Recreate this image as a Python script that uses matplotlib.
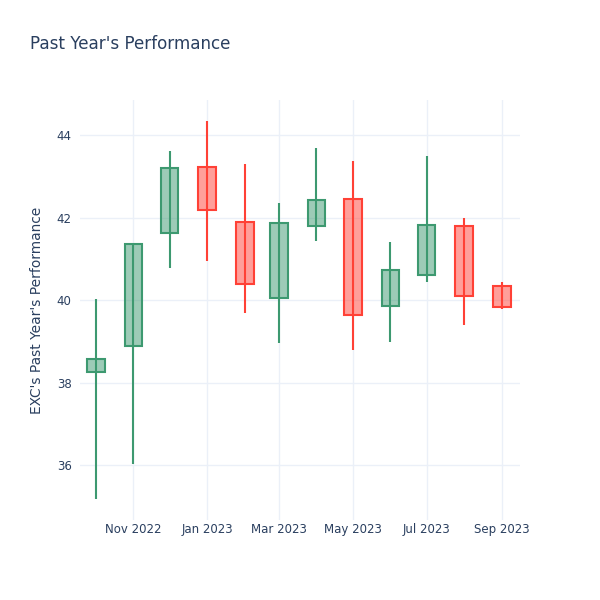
import datetime as dt
import matplotlib
matplotlib.use("Agg")
import matplotlib.pyplot as plt
import matplotlib.dates as mdates

# monthly OHLC for EXC
months = ["2022-10-01", "2022-11-01", "2022-12-01", "2023-01-01", "2023-02-01", "2023-03-01",
          "2023-04-01", "2023-05-01", "2023-06-01", "2023-07-01", "2023-08-01", "2023-09-01"]
opens = [38.25, 38.88, 41.63, 43.23, 41.89, 40.06, 41.79, 42.44, 39.85, 40.61, 41.79, 40.33]
highs = [40.02, 41.37, 43.62, 44.34, 43.31, 42.36, 43.68, 43.37, 41.41, 43.50, 41.99, 40.44]
lows = [35.19, 36.02, 40.78, 40.95, 39.69, 38.97, 41.43, 38.80, 38.99, 40.44, 39.39, 39.78]
closes = [38.58, 41.35, 43.21, 42.19, 40.39, 41.86, 42.42, 39.63, 40.72, 41.83, 40.11, 39.84]

tick_dates = ["2022-11-01", "2023-01-01", "2023-03-01", "2023-05-01", "2023-07-01", "2023-09-01"]
tick_labels = ["Nov 2022", "Jan 2023", "Mar 2023", "May 2023", "Jul 2023", "Sep 2023"]

UP = "#3D9970"
DOWN = "#FF4136"
TEXT = "#2a3f5f"
GRID = "#EBF0F8"

plt.rcParams["font.family"] = ["DejaVu Sans"]

fig = plt.figure(figsize=(6, 6), dpi=100)
ax = fig.add_axes([80 / 600, 80 / 600, 440 / 600, 420 / 600])

x = mdates.date2num([dt.datetime.strptime(d, "%Y-%m-%d") for d in months])
for xi, o, h, l, c in zip(x, opens, highs, lows, closes):
    col = UP if c >= o else DOWN
    ax.vlines(xi, l, h, color=col, linewidth=1.5, zorder=2)
    ax.bar(xi, abs(c - o), bottom=min(o, c), width=14.5, color=col, alpha=0.5,
           linewidth=0, zorder=3)
    ax.bar(xi, abs(c - o), bottom=min(o, c), width=14.5, fill=False, edgecolor=col,
           linewidth=1.5, zorder=4)

ax.set_xlim(mdates.date2num(dt.datetime(2022, 9, 18)), mdates.date2num(dt.datetime(2023, 9, 16)))
ax.set_ylim(34.67, 44.85)

tx = mdates.date2num([dt.datetime.strptime(d, "%Y-%m-%d") for d in tick_dates])
ax.set_xticks(tx)
ax.set_xticklabels(tick_labels)
ax.set_yticks([36, 38, 40, 42, 44])
ax.grid(True, color=GRID, linewidth=1, zorder=0)
ax.set_axisbelow(True)
for s in ax.spines.values():
    s.set_visible(False)
ax.tick_params(axis="both", length=0, labelsize=8.5, labelcolor=TEXT, pad=6)
ax.tick_params(axis="x", pad=2)

ax.set_ylabel("EXC's Past Year's Performance", fontsize=9.9, color=TEXT, labelpad=9)
fig.text(30 / 600, 1 - 44 / 600, "Past Year's Performance", fontsize=12.1, color=TEXT,
         va="center", ha="left")

fig.savefig("out.png", dpi=100, facecolor="white")
